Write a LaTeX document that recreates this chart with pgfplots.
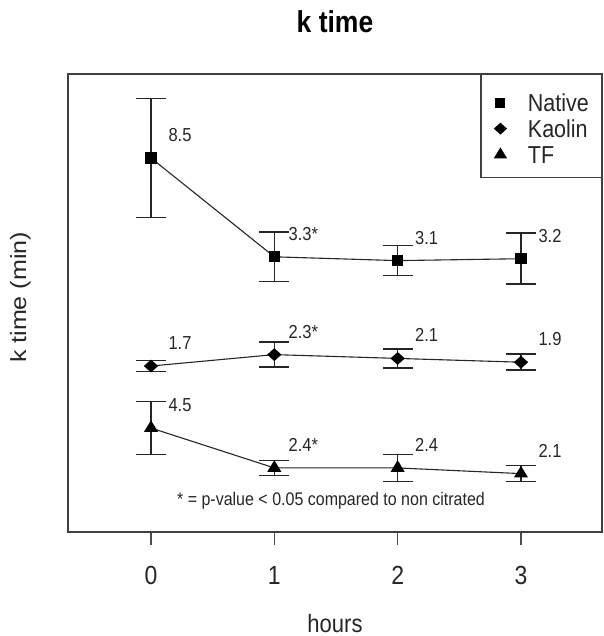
\documentclass[border=0pt]{standalone}
\usepackage{pgfplots}
\pgfplotsset{compat=1.18}
\usepackage{pgfplotstable}
\usepackage{graphicx}
\usepackage{fontspec}
\setmainfont{Liberation Sans}
\newcommand\vs[1]{\scalebox{1}[1.14]{#1}}

\pgfplotstableread{
x y err lab
0 8.5 3.13 8.5
1 3.3 1.30 3.3*
2 3.1 0.79 3.1
3 3.2 1.34 3.2
}\native
\pgfplotstableread{
x y err lab
0 1.7 0.29 1.7
1 2.3 0.66 2.3*
2 2.1 0.50 2.1
3 1.9 0.42 1.9
}\kaolin
\pgfplotstableread{
x y err lab
0 4.5 1.40 4.5
1 2.4 0.40 2.4*
2 2.4 0.71 2.4
3 2.1 0.42 2.1
}\tf

\pgfplotsset{myerr/.style={
  error bars/y dir=both, error bars/y explicit,
  error bars/error bar style={line width=1.5pt, color=black!85, solid},
  error bars/error mark options={mark size=15pt, line width=1.5pt, color=black!85, rotate=90},
}}

\begin{document}
\begin{tikzpicture}
\path[use as bounding box] (0pt,0pt) rectangle (603pt,636pt);
\begin{axis}[
  at={(68pt,104pt)}, anchor=south west,
  scale only axis, width=534pt, height=458pt,
  xmin=-0.673, xmax=3.657, ymin=-11.18, ymax=12.92,
  xtick={0,1,2,3}, xticklabels={\vs{0},\vs{1},\vs{2},\vs{3}},
  ytick=\empty,
  xtick pos=bottom, tick align=outside, major tick length=13pt,
  tick style={line width=1.3pt, color=black!70},
  axis line style={line width=1.3pt, color=black!75},
  xticklabel style={anchor=base, yshift=-39.5pt, font=\fontsize{23}{26}\selectfont, text=black!85},
  title={\vs{k time}},
  title style={at={(axis description cs:0.5,1)}, anchor=base, yshift=35pt, font=\fontsize{26.5}{30}\bfseries},
  xlabel={\vs{hours}},
  xlabel style={at={(axis description cs:0.5,0)}, anchor=base, yshift=-100pt, font=\fontsize{22}{26}\selectfont, text=black!85},
  ylabel={\scalebox{1.14}[1]{k time (min)}},
  ylabel style={at={(axis description cs:-0.0786,0.512)}, anchor=base, font=\fontsize{22}{26}\selectfont, text=black!85},
  legend style={at={(1,1)}, anchor=north east, draw=black!75, line width=1.3pt,
    inner xsep=12.5pt, inner ysep=14.2pt, row sep=3.4pt, column sep=20.5pt,
    font=\fontsize{21.5}{24}\selectfont, text=black!85,
    nodes={inner sep=0pt, text height=22.6pt, text depth=0pt}},
  legend cell align=left,
  legend image code/.code={\path[draw=none, fill=none] (-7pt,-11.3pt) rectangle (7pt,11.3pt);\draw[#1] plot coordinates {(0pt,-2.5pt)};},
  point meta=explicit symbolic,
  nodes near coords={\vs{\pgfplotspointmeta}},
  nodes near coords style={anchor=center, xshift=29pt, yshift=23pt, font=\fontsize{16.5}{19}\selectfont, text=black!85},
  every axis plot/.append style={line width=1.1pt, color=black!85},
]
\addplot[myerr, mark=square*, mark size=5pt, mark options={solid, fill=black, draw=black}, forget plot]
  table[x=x, y=y, y error=err, meta=lab] {\native};
\addplot[myerr, yshift=-78.8pt, mark=diamond*, mark size=6pt, mark options={solid, fill=black, draw=black, xscale=1.4, yscale=0.95}, forget plot]
  table[x=x, y=y, y error=err, meta=lab] {\kaolin};
\addplot[myerr, yshift=-194pt, mark=triangle*, mark size=7pt, mark options={solid, fill=black, draw=black, yscale=0.95}, forget plot]
  table[x=x, y=y, y error=err, meta=lab] {\tf};
\addlegendimage{only marks, mark=square*, mark size=4.5pt, mark options={fill=black, draw=black}}
\addlegendentry{\vs{Native}}
\addlegendimage{only marks, mark=diamond*, mark size=5.5pt, mark options={fill=black, draw=black, xscale=1.4, yscale=0.95}}
\addlegendentry{\vs{Kaolin}}
\addlegendimage{only marks, mark=triangle*, mark size=6.5pt, mark options={fill=black, draw=black, yscale=0.95}}
\addlegendentry{\vs{TF}}
\node[font=\fontsize{16}{18}\selectfont, text=black!85] at (axis description cs:0.4925,0.0675) {\vs{* = p-value < 0.05 compared to non citrated}};
\end{axis}
\end{tikzpicture}
\end{document}
